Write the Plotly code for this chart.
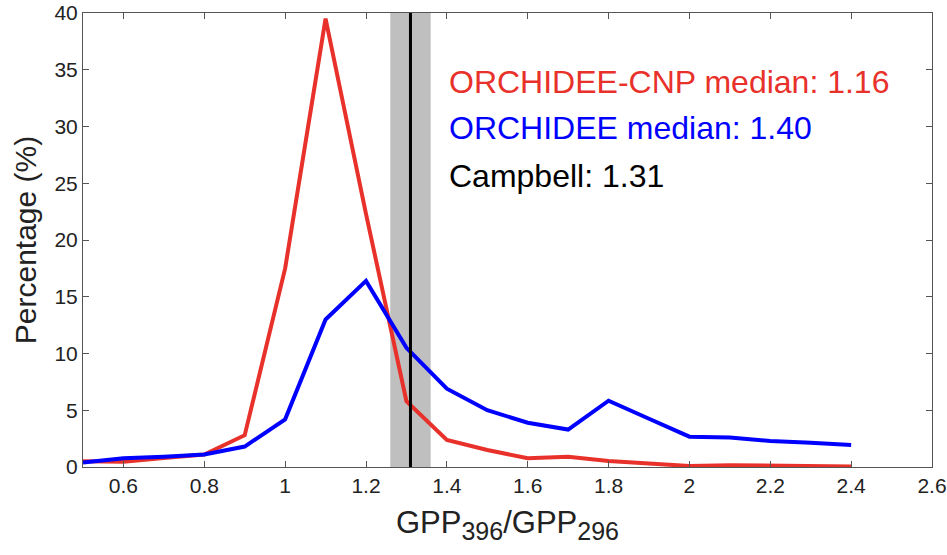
import plotly.graph_objects as go

x_vals = [0.5, 0.6, 0.7, 0.8, 0.9, 1.0, 1.1, 1.2, 1.3, 1.4, 1.5, 1.6, 1.7, 1.8, 1.9, 2.0, 2.1, 2.2, 2.3, 2.4]
cnp_vals = [0.5, 0.47, 0.8, 1.1, 2.8, 17.5, 39.5, 22.3, 5.8, 2.38, 1.5, 0.77, 0.9, 0.53, 0.3, 0.09, 0.15, 0.1, 0.07, 0.05]
orc_vals = [0.4, 0.77, 0.9, 1.1, 1.8, 4.2, 13.0, 16.4, 10.5, 6.9, 5.0, 3.9, 3.3, 5.84, 4.25, 2.67, 2.6, 2.29, 2.14, 1.94]
campbell = 1.31
band = [1.26, 1.36]
labels = ["ORCHIDEE-CNP median: 1.16", "ORCHIDEE median: 1.40", "Campbell: 1.31"]
label_colors = ["#e8312a", "#0000ff", "#000000"]
label_y = [33.9, 29.9, 25.6]

FONT = "Liberation Sans, Arial"
fig = go.Figure()
fig.add_shape(type="rect", x0=band[0], x1=band[1], y0=0, y1=40, xref="x", yref="y",
              fillcolor="#bfbfbf", line_width=0, layer="below")
fig.add_trace(go.Scatter(x=x_vals, y=cnp_vals, mode="lines", line=dict(color="#e8312a", width=4), showlegend=False))
fig.add_trace(go.Scatter(x=x_vals, y=orc_vals, mode="lines", line=dict(color="#0000ff", width=4), showlegend=False))
fig.add_shape(type="line", x0=campbell, x1=campbell, y0=0, y1=40, xref="x", yref="y",
              line=dict(color="black", width=3))
for t, c, y in zip(labels, label_colors, label_y):
    fig.add_annotation(x=1.40, y=y, xref="x", yref="y", text=t, showarrow=False,
                       xanchor="left", yanchor="middle", font=dict(size=32, color=c, family=FONT))

axis_common = dict(showgrid=False, zeroline=False, showline=True, linecolor="#555555", linewidth=1,
                   mirror="ticks", ticks="inside", ticklen=6, tickcolor="#555555", automargin=False,
                   tickfont=dict(size=21, color="#222222", family=FONT))
xtitle = ('GPP<sub><span style="font-size:25px">396</span></sub>/GPP'
          '<sub><span style="font-size:25px">296</span></sub>')
fig.update_xaxes(range=[0.5, 2.6], tickvals=[0.6, 0.8, 1, 1.2, 1.4, 1.6, 1.8, 2, 2.2, 2.4, 2.6],
                 ticktext=["0.6", "0.8", "1", "1.2", "1.4", "1.6", "1.8", "2", "2.2", "2.4", "2.6"],
                 title=dict(text=xtitle, font=dict(size=31, color="#222222", family=FONT), standoff=15),
                 **axis_common)
fig.update_yaxes(range=[0, 40], tickvals=[0, 5, 10, 15, 20, 25, 30, 35, 40],
                 title=dict(text="Percentage (%)", font=dict(size=30, color="#222222", family=FONT), standoff=8),
                 **axis_common)
fig.update_layout(width=947, height=555, margin=dict(l=83, r=15, t=13, b=88),
                  plot_bgcolor="white", paper_bgcolor="white")
fig.write_html("out.html")
